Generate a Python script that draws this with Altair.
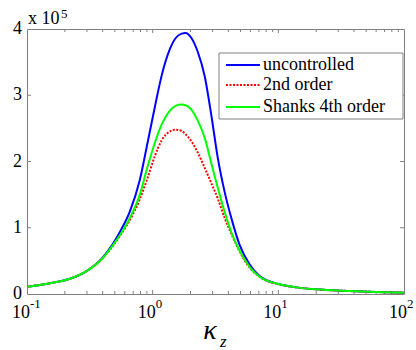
import altair as alt
import pandas as pd

# ---- data (values in units of 10^5) ----
kappa = [0.1, 0.13, 0.16, 0.22, 0.30, 0.40, 0.48, 0.55, 0.66, 0.79, 0.91, 1.04,
         1.18, 1.36, 1.52, 1.7, 1.83, 2.04, 2.28, 2.6, 2.95, 3.3, 3.75, 4.25,
         4.9, 5.9, 7.1, 10.2, 14, 20, 37, 60, 100]
uncontrolled = [0.11, 0.14, 0.17, 0.23, 0.35, 0.55, 0.75, 0.94, 1.25, 1.72, 2.28, 2.82,
                3.30, 3.68, 3.86, 3.93, 3.94, 3.86, 3.66, 3.28, 2.66, 2.05, 1.53, 1.13,
                0.75, 0.45, 0.27, 0.146, 0.10, 0.07, 0.045, 0.03, 0.02]
second_order = [0.11, 0.14, 0.17, 0.23, 0.35, 0.54, 0.72, 0.88, 1.12, 1.43, 1.75, 2.08,
                2.32, 2.45, 2.48, 2.46, 2.41, 2.30, 2.14, 1.90, 1.66, 1.44, 1.14, 0.90,
                0.65, 0.40, 0.26, 0.146, 0.10, 0.07, 0.045, 0.03, 0.02]
shanks4 = [0.11, 0.14, 0.17, 0.23, 0.35, 0.54, 0.73, 0.89, 1.15, 1.50, 1.92, 2.28,
           2.56, 2.76, 2.84, 2.86, 2.85, 2.78, 2.62, 2.35, 1.95, 1.60, 1.23, 0.92,
           0.66, 0.41, 0.26, 0.146, 0.10, 0.07, 0.045, 0.03, 0.02]

series_names = ["uncontrolled", "2nd order", "Shanks 4th order"]
series_colors = ["#0000ff", "#ff0000", "#00ff00"]

x_major = [0.1, 1, 10, 100]
x_exponents = ["-1", "0", "1", "2"]
x_minor = [0.2, 0.3, 0.4, 0.5, 0.6, 0.7, 0.8, 0.9,
           2, 3, 4, 5, 6, 7, 8, 9,
           20, 30, 40, 50, 60, 70, 80, 90]
x_inner_major = [1, 10]
y_labels = [0, 1, 2, 3, 4]
y_inner = [1, 2, 3]

# ---- layout / style ----
W, H = 377, 265
GREY = "#808080"
SERIF = "Liberation Serif"

xs = alt.Scale(type="log", domain=[0.1, 100], nice=False)
ys = alt.Scale(domain=[0, 4], nice=False, zero=True)


def X(field):
    return alt.X(field, type="quantitative", scale=xs, axis=None)


def Y(field):
    return alt.Y(field, type="quantitative", scale=ys, axis=None)


def curve(vals, color, dash=None):
    df = pd.DataFrame({"k": kappa, "v": vals})
    kw = dict(color=color, strokeWidth=2, interpolate="monotone", clip=True)
    if dash:
        kw["strokeDash"] = dash
    return alt.Chart(df).mark_line(**kw).encode(x=X("k"), y=Y("v"))


def xticks(vals, length, top):
    df = pd.DataFrame({"t": vals})
    y0, y1 = (0, length) if top else (H, H - length)
    return alt.Chart(df).mark_rule(color=GREY, strokeWidth=1).encode(
        x=X("t"), y=alt.value(y0), y2=alt.value(y1))


def yticks(vals, length, right):
    df = pd.DataFrame({"t": vals})
    x0, x1 = (W, W - length) if right else (0, length)
    return alt.Chart(df).mark_rule(color=GREY, strokeWidth=1).encode(
        y=Y("t"), x=alt.value(x0), x2=alt.value(x1))


def label(text, x, y, size, align="left", baseline="alphabetic", italic=False):
    kw = dict(text=text, align=align, baseline=baseline, font=SERIF, fontSize=size)
    if italic:
        kw["fontStyle"] = "italic"
    return alt.Chart(pd.DataFrame({"a": [0]})).mark_text(**kw).encode(
        x=alt.value(x), y=alt.value(y))


layers = [
    xticks(x_minor, 3, False), xticks(x_minor, 3, True),
    xticks(x_inner_major, 4, False), xticks(x_inner_major, 4, True),
    yticks(y_inner, 4, False), yticks(y_inner, 4, True),
    curve(uncontrolled, series_colors[0]),
    curve(second_order, series_colors[1], [2, 1.5]),
    curve(shanks4, series_colors[2]),
]

# y tick labels
ylab = pd.DataFrame({"t": y_labels, "s": [str(v) for v in y_labels]})
layers.append(alt.Chart(ylab).mark_text(align="right", baseline="middle", dx=-5,
                                        font=SERIF, fontSize=18).encode(
    y=Y("t"), x=alt.value(0), text="s:N"))

# x tick labels 10^n
lab = pd.DataFrame({"t": x_major, "e": x_exponents})
lbase = alt.Chart(lab).encode(x=X("t"))
layers.append(lbase.mark_text(text="10", align="right", dx=3, baseline="alphabetic",
                              font=SERIF, fontSize=18).encode(y=alt.value(H + 24)))
layers.append(lbase.mark_text(align="left", dx=3, baseline="alphabetic",
                              font=SERIF, fontSize=13).encode(
    y=alt.value(H + 14), text="e:N"))

# y multiplier label
layers.append(label("x 10", 1, -5, 18))
layers.append(label("5", 34, -11, 13))

# x axis title kappa_z
layers.append(label("κ", 183, H + 45, 28, align="center", italic=True))
layers.append(label("z", 193, H + 53, 17, italic=True))

# legend
layers.append(alt.Chart(pd.DataFrame({"a": [0]})).mark_rect(
    fill="white", stroke=GREY, strokeWidth=1).encode(
    x=alt.value(192), x2=alt.value(376), y=alt.value(24), y2=alt.value(90)))
rows = [36, 56, 78]
dashes = [None, [2, 1.5], None]
for name, color, dash, ry in zip(series_names, series_colors, dashes, rows):
    kw = dict(color=color, strokeWidth=2)
    if dash:
        kw["strokeDash"] = dash
    layers.append(alt.Chart(pd.DataFrame({"a": [0]})).mark_rule(**kw).encode(
        x=alt.value(199), x2=alt.value(233), y=alt.value(ry)))
    layers.append(label(name, 236, ry, 18, baseline="middle"))

chart = alt.layer(*layers).properties(
    width=W, height=H,
    autosize=alt.AutoSizeParams(type="none"),
    padding={"left": 27, "top": 29, "right": 12, "bottom": 56},
).configure_view(stroke=GREY, strokeWidth=1)

chart.save("out.html", embed_options={"renderer": "svg", "actions": False})
